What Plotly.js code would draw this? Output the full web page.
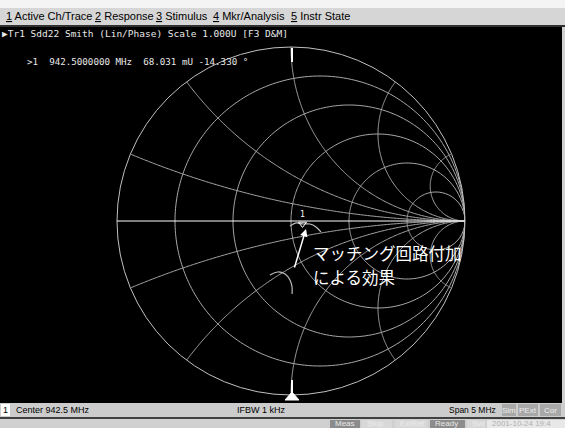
<!DOCTYPE html>
<html>
<head>
<meta charset="utf-8">
<script src="https://cdn.plot.ly/plotly-3.0.1.min.js"></script>
<style>html,body{margin:0;padding:0;background:#000;}#chart{width:565px;height:428px;}</style>
</head>
<body>
<div id="chart"></div>
<script>
// ---- data (reflection coefficient) ----
const markerFreqMHz = 942.5;
const markerMag = 0.068031;      // U
const markerPhaseDeg = -14.330;  // degrees

// trace after matching (Gamma real / imag)
const afterRe = [-0.006, 0.029, 0.066, 0.109, 0.144, 0.172];
const afterIm = [-0.029, -0.011, -0.017, -0.017, -0.034, -0.063];
// trace before matching (memory)
const beforeRe = [-0.121, -0.075, -0.034, -0.006, 0.006, 0.006];
const beforeIm = [-0.310, -0.293, -0.305, -0.339, -0.379, -0.420];

// Smith grid values (normalized resistance / reactance)
const resistanceGrid = [0.2, 0.5, 1, 2, 5];
const reactanceGrid = [0.2, 0.5, 1, 2, 5, -0.2, -0.5, -1, -2, -5];

const menuItems = ['1', 'Active Ch/Trace', '2', 'Response', '3', 'Stimulus', '4', 'Mkr/Analysis', '5', 'Instr State'];
const headerText = '\u25B6Tr1 Sdd22 Smith (Lin/Phase) Scale 1.000U [F3 D&M]';
const noteLines = ['マッチング回路付加', 'による効果'];

// ---- helpers ----
function g2z(re, im) {
  const nr = 1 + re, ni = im, dr = 1 - re, di = -im;
  const d = dr * dr + di * di;
  return [(nr * dr + ni * di) / d, (ni * dr - nr * di) / d];
}
function toZ(reArr, imArr) {
  const R = [], X = [];
  for (let i = 0; i < reArr.length; i++) { const z = g2z(reArr[i], imArr[i]); R.push(z[0]); X.push(z[1]); }
  return [R, X];
}
const W = 565, H = 428;
const px = x => x / W, py = y => 1 - y / H;

const GRID = '#a8a8a8';
const traces = [];
// full grid lines drawn on the library's smith scale (sampling along each constant-r / constant-x line)
const NS = 240;
resistanceGrid.forEach(r => {
  const re = [], im = [];
  for (let k = 0; k <= NS; k++) { const phi = (-0.4995 + 0.999 * k / NS) * Math.PI; re.push(r); im.push(Math.tan(phi)); }
  traces.push({type: 'scattersmith', real: re, imag: im, mode: 'lines', line: {color: GRID, width: 1}, hoverinfo: 'skip', showlegend: false});
});
reactanceGrid.forEach(x => {
  const re = [], im = [];
  for (let k = 0; k <= NS; k++) { const s = 0.998 * k / NS; re.push(s / (1 - s)); im.push(x); }
  traces.push({type: 'scattersmith', real: re, imag: im, mode: 'lines', line: {color: GRID, width: 1}, hoverinfo: 'skip', showlegend: false});
});

const aft = toZ(afterRe, afterIm);
const bef = toZ(beforeRe, beforeIm);
const ph = markerPhaseDeg * Math.PI / 180;
const mk = g2z(markerMag * Math.cos(ph), markerMag * Math.sin(ph));

traces.push(
  {type: 'scattersmith', real: bef[0], imag: bef[1], mode: 'lines',
   line: {color: '#bcbcbc', width: 1.2, shape: 'spline'}, hoverinfo: 'skip', showlegend: false},
  {type: 'scattersmith', real: aft[0], imag: aft[1], mode: 'lines',
   line: {color: '#bcbcbc', width: 1.2, shape: 'spline'}, hoverinfo: 'skip', showlegend: false},
  {type: 'scattersmith', real: [mk[0]], imag: [mk[1]], mode: 'markers+text',
   text: ['1'], textposition: 'top center', textfont: {family: 'DejaVu Sans Mono', size: 8, color: '#ffffff'},
   marker: {symbol: 'triangle-down-open', size: 7, color: '#ffffff', line: {width: 1}},
   hoverinfo: 'skip', showlegend: false}
);

const ann = [];
const menuX = [4, 93, 154, 211, 289];
for (let i = 0; i < 5; i++) {
  ann.push({xref: 'paper', yref: 'paper', x: px(menuX[i]), y: py(16), xanchor: 'left', yanchor: 'middle',
    text: '<u>' + menuItems[2 * i] + '</u> ' + menuItems[2 * i + 1], showarrow: false,
    font: {family: 'Liberation Sans', size: 11, color: '#000'}});
}
ann.push({xref: 'paper', yref: 'paper', x: px(0), y: py(34), xanchor: 'left', yanchor: 'middle',
  text: headerText, showarrow: false, font: {family: 'DejaVu Sans Mono', size: 9.5, color: '#e8e8e8'}});
ann.push({xref: 'paper', yref: 'paper', x: px(25), y: py(61), xanchor: 'left', yanchor: 'middle',
  text: '>1  ' + markerFreqMHz.toFixed(7) + ' MHz  ' + (markerMag * 1000).toFixed(3) + ' mU ' + markerPhaseDeg.toFixed(3) + ' \u00B0',
  showarrow: false, font: {family: 'DejaVu Sans Mono', size: 9.2, color: '#e8e8e8'}});
// japanese note (two lines)
ann.push({xref: 'paper', yref: 'paper', x: px(311), y: py(253), xanchor: 'left', yanchor: 'middle',
  text: noteLines[0], showarrow: false, font: {family: 'Noto Sans CJK JP', size: 16.5, color: '#ffffff'}});
ann.push({xref: 'paper', yref: 'paper', x: px(311), y: py(277), xanchor: 'left', yanchor: 'middle',
  text: noteLines[1], showarrow: false, font: {family: 'Noto Sans CJK JP', size: 16.5, color: '#ffffff'}});
// arrow
ann.push({xref: 'paper', yref: 'paper', x: px(306), y: py(229), ax: -12, ay: 40, text: '', showarrow: true,
  arrowcolor: '#ffffff', arrowwidth: 1.5, arrowhead: 2, arrowsize: 1});
// bottom bar
ann.push({xref: 'paper', yref: 'paper', x: px(14), y: py(410), xanchor: 'left', yanchor: 'middle',
  text: 'Center ' + markerFreqMHz + ' MHz', showarrow: false, font: {family: 'Liberation Sans', size: 9, color: '#000'}});
ann.push({xref: 'paper', yref: 'paper', x: px(5.5), y: py(410), xanchor: 'center', yanchor: 'middle',
  text: '1', showarrow: false, font: {family: 'Liberation Sans', size: 9, color: '#000'}});
ann.push({xref: 'paper', yref: 'paper', x: px(235), y: py(410), xanchor: 'left', yanchor: 'middle',
  text: 'IFBW 1 kHz', showarrow: false, font: {family: 'Liberation Sans', size: 9, color: '#000'}});
ann.push({xref: 'paper', yref: 'paper', x: px(498), y: py(410), xanchor: 'right', yanchor: 'middle',
  text: 'Span 5 MHz', showarrow: false, font: {family: 'Liberation Sans', size: 8.5, color: '#000'}});
const boxes = [['Sim', 502, 516], ['PExt', 518, 538], ['Cor', 540, 561]];
const shapes = [];
shapes.push({type: 'rect', xref: 'paper', yref: 'paper', x0: 0, x1: 1, y0: py(0), y1: py(8), fillcolor: '#f4f4f4', line: {width: 0}});
shapes.push({type: 'rect', xref: 'paper', yref: 'paper', x0: 0, x1: 1, y0: py(8), y1: py(25), fillcolor: '#d6d6d6', line: {width: 0}});
shapes.push({type: 'rect', xref: 'paper', yref: 'paper', x0: 0, x1: 1, y0: py(25), y1: py(27), fillcolor: '#303030', line: {width: 0}});
shapes.push({type: 'rect', xref: 'paper', yref: 'paper', x0: px(562), x1: 1, y0: py(27), y1: py(403), fillcolor: '#d0d0d0', line: {width: 0}});
shapes.push({type: 'rect', xref: 'paper', yref: 'paper', x0: 0, x1: 1, y0: py(403), y1: py(417), fillcolor: '#cccccc', line: {width: 0}});
shapes.push({type: 'rect', xref: 'paper', yref: 'paper', x0: 0, x1: 1, y0: py(417), y1: py(419), fillcolor: '#404040', line: {width: 0}});
shapes.push({type: 'rect', xref: 'paper', yref: 'paper', x0: 0, x1: 1, y0: py(419), y1: py(428), fillcolor: '#d0d0d0', line: {width: 0}});
shapes.push({type: 'rect', xref: 'paper', yref: 'paper', x0: px(1), x1: px(10), y0: py(404), y1: py(416), fillcolor: '#ffffff', line: {width: 0}});
boxes.forEach(b => {
  shapes.push({type: 'rect', xref: 'paper', yref: 'paper', x0: px(b[1]), x1: px(b[2]), y0: py(404), y1: py(416), fillcolor: '#a8a8a8', line: {width: 0}});
  ann.push({xref: 'paper', yref: 'paper', x: px((b[1] + b[2]) / 2), y: py(410), xanchor: 'center', yanchor: 'middle',
    text: b[0], showarrow: false, font: {family: 'Liberation Sans', size: 8, color: '#eeeeee'}});
});
const status = [['Meas', 330, 360, '#8c8c8c', '#e8e8e8'], ['Stop', 362, 392, '#d8d8d8', '#ececec'],
  ['ExtRef', 395, 427, '#d8d8d8', '#ececec'], ['Ready', 430, 465, '#8c8c8c', '#e8e8e8'],
  ['Svc', 467, 485, '#d8d8d8', '#ececec'], ['2001-10-24 19:4', 487, 565, '#e8e8e8', '#b0b0b0']];
status.forEach(s => {
  shapes.push({type: 'rect', xref: 'paper', yref: 'paper', x0: px(s[1]), x1: px(s[2]), y0: py(420), y1: py(428), fillcolor: s[3], line: {width: 0}});
  ann.push({xref: 'paper', yref: 'paper', x: px(s[1] + 3), y: py(423.5), xanchor: 'left', yanchor: 'middle',
    text: s[0], showarrow: false, font: {family: 'Liberation Sans', size: 8, color: s[4]}});
});
// reference markers on the chart frame
shapes.push({type: 'line', xref: 'paper', yref: 'paper', x0: px(292), x1: px(292), y0: py(48), y1: py(62), line: {color: '#ffffff', width: 2}});
shapes.push({type: 'line', xref: 'paper', yref: 'paper', x0: px(292), x1: px(292), y0: py(380), y1: py(393), line: {color: '#ffffff', width: 2}});
shapes.push({type: 'path', xref: 'paper', yref: 'paper',
  path: 'M' + px(292) + ',' + py(392) + ' L' + px(285) + ',' + py(400) + ' L' + px(299) + ',' + py(400) + ' Z',
  fillcolor: '#ffffff', line: {color: '#ffffff', width: 1}});

const axisCommon = {showticklabels: false, ticks: '', showgrid: false};
const layout = {
  width: W, height: H,
  margin: {l: 0, r: 0, t: 0, b: 0},
  paper_bgcolor: '#000000',
  showlegend: false,
  smith: {
    domain: {x: [px(117), px(465)], y: [py(395), py(47)]},
    bgcolor: '#000000',
    realaxis: Object.assign({tickvals: [1], linecolor: '#ffffff', linewidth: 1}, axisCommon),
    imaginaryaxis: Object.assign({tickvals: [1], linecolor: '#c0c0c0', linewidth: 1}, axisCommon)
  },
  annotations: ann,
  shapes: shapes
};
Plotly.newPlot('chart', traces, layout, {displayModeBar: false, staticPlot: true});
</script>
</body>
</html>
